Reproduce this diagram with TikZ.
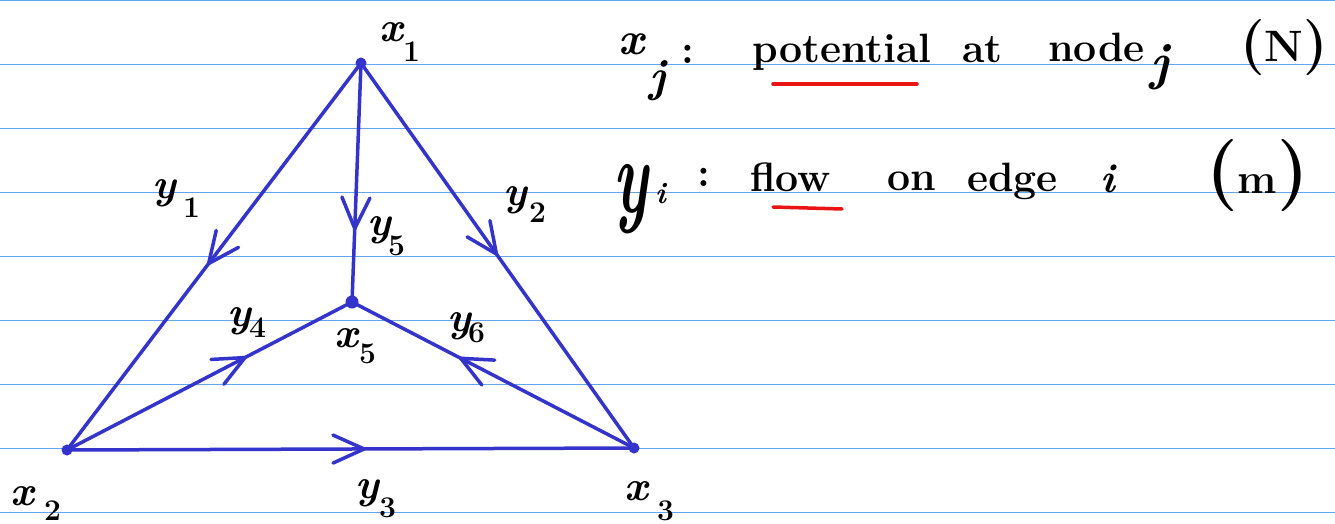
\documentclass[tikz,border=0pt]{standalone}
\usepackage{fontspec}
\usepackage{graphicx}
\usetikzlibrary{arrows.meta,decorations.markings}
\definecolor{pen}{RGB}{52,52,204}
\definecolor{ruleblue}{RGB}{95,165,240}
\definecolor{redpen}{RGB}{235,20,20}
\newcommand\sbf{\fontsize{30}{30}\selectfont}
\tikzset{
  ruleline/.style={draw=ruleblue, line width=1.4pt},
  edge/.style={draw=pen, line width=3.5pt, line cap=round},
  midarrow/.style={postaction={decorate, decoration={markings,
      mark=at position #1 with {\arrow{Straight Barb[length=31pt,width=28pt,round]}}}}},
  dot/.style={circle, fill=pen, draw=none, inner sep=0pt, minimum size=11pt},
  lbl/.style={inner sep=0pt, anchor=base west, text=black, font=\fontsize{42}{42}\selectfont\bfseries},
  word/.style={inner sep=0pt, anchor=base west, text=black, font=\fontsize{41}{41}\selectfont\bfseries},
  redline/.style={draw=redpen, line width=3.5pt, line cap=round},
}
\begin{document}
\begin{tikzpicture}[x=1pt, y=-1pt]
\useasboundingbox (0,0) rectangle (1335,524);
\fill[white] (0,0) rectangle (1335,524);
% ruled paper
\foreach \k in {0,...,8} {
  \draw[ruleline] (0,{0.7+63.95*\k}) -- (1335,{0.7+63.95*\k});
}
% vertices
\node[dot] (x1) at (361,63) {};
\node[dot] (x2) at (67,450) {};
\node[dot] (x3) at (634,448) {};
\node[dot, minimum size=13pt] (x5) at (352,302) {};
% edges
\draw[edge, midarrow=0.522] (x1.center) -- (x2.center);
\draw[edge, midarrow=0.50]  (x1.center) -- (x3.center);
\draw[edge, midarrow=0.70]  (x1.center) -- (x5.center);
\draw[edge, midarrow=0.63]  (x2.center) -- (x5.center);
\draw[edge, midarrow=0.62]  (x3.center) -- (x5.center);
\draw[edge, midarrow=0.527] (x2.center) -- (x3.center);
% vertex labels
\node[lbl] (lx1) at (379,42)  {\makebox[24pt][l]{\itshape x}\raisebox{-20pt}{\sbf 1}};
\node[lbl] (lx2) at (10,505)  {\makebox[34pt][l]{\itshape x}\raisebox{-15pt}{\sbf 2}};
\node[lbl] (lx3) at (624,500) {\makebox[33pt][l]{\itshape x}\raisebox{-20pt}{\sbf 3}};
\node[lbl] (lx5) at (334,347) {\makebox[25pt][l]{\itshape x}\raisebox{-16pt}{\sbf 5}};
% edge labels
\node[lbl] (ly1) at (152,198) {\makebox[31pt][l]{\itshape y}\raisebox{-19pt}{\sbf 1}};
\node[lbl] (ly2) at (503,205) {\makebox[26pt][l]{\itshape y}\raisebox{-17pt}{\sbf 2}};
\node[lbl] (ly5) at (367,235) {\makebox[21pt][l]{\itshape y}\raisebox{-20pt}{\sbf 5}};
\node[lbl] (ly4) at (227,326) {\makebox[22pt][l]{\itshape y}\raisebox{-11pt}{\sbf 4}};
\node[lbl] (ly6) at (447,331) {\makebox[21pt][l]{\itshape y}\raisebox{-11pt}{\sbf 6}};
\node[lbl] (ly3) at (355,498) {\makebox[24pt][l]{\itshape y}\raisebox{-19pt}{\sbf 3}};
% legend line 1
\node[word, font=\fontsize{46}{46}\selectfont\bfseries] (xj) at (618,55)
  {\makebox[31pt][l]{\itshape x}\raisebox{-37pt}{\itshape j}};
\node[word] (c1) at (681,64) {:};
\node[word] (potential) at (752,63) {potential};
\node[word] (at) at (962,63) {at};
\node[word] (nodew) at (1048,62) {node};
\node[word, font=\fontsize{52}{52}\selectfont\bfseries] (jw) at (1150,80) {\itshape j};
\node[word] (N) at (1240,62)
  {\fontsize{56}{56}\selectfont(\fontsize{44}{44}\selectfont N\fontsize{56}{56}\selectfont)};
\draw[redline] (773,84) -- (917,84);
% legend line 2
\node[word, font=\fontsize{56}{56}\selectfont\bfseries] (yi) at (613,212)
  {\makebox[42pt][l]{\scalebox{1.1}[1.9]{\itshape y}}\raisebox{9pt}{\sbf\itshape i}};
\node[word] (c2) at (697,186) {:};
\node[word] (flow) at (750,191) {flow};
\node[word] (on) at (887,190) {on};
\node[word] (edge) at (967,191) {edge};
\node[word] (iw) at (1100,192) {\itshape i};
\node[word] (m) at (1206,193)
  {\fontsize{72}{72}\selectfont(\fontsize{42}{42}\selectfont m\fontsize{72}{72}\selectfont)};
\draw[redline] (773,207) -- (842,209);
\end{tikzpicture}
\end{document}
